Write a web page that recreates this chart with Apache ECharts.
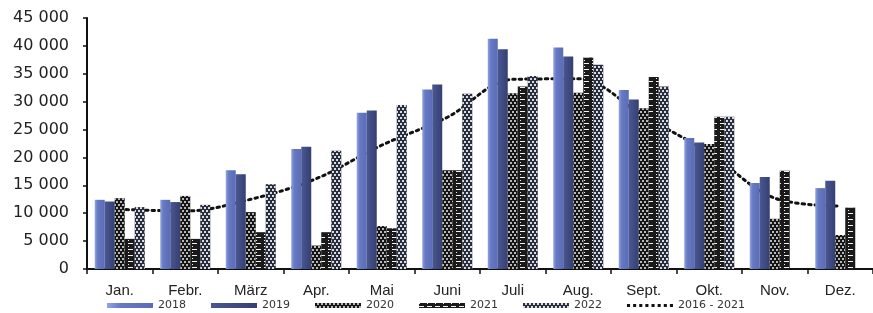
<!DOCTYPE html>
<html>
<head>
<meta charset="utf-8">
<script src="https://cdn.jsdelivr.net/npm/echarts@6/dist/echarts.min.js"></script>
<style>
html,body{margin:0;padding:0;background:#fff;}
#c{width:873px;height:313px;}
</style>
</head>
<body>
<div id="c"></div>
<script>
const months = ['Jan.', 'Febr.', 'März', 'Apr.', 'Mai', 'Juni', 'Juli', 'Aug.', 'Sept.', 'Okt.', 'Nov.', 'Dez.'];
const s2018 = [12400, 12400, 17700, 21500, 28000, 32200, 41300, 39700, 32100, 23500, 15400, 14500];
const s2019 = [12100, 12000, 17000, 21900, 28400, 33100, 39400, 38100, 30400, 22700, 16500, 15800];
const s2020 = [12700, 13100, 10200, 4200, 7700, 17700, 31500, 31600, 28800, 22400, 9000, 6100];
const s2021 = [5400, 5400, 6600, 6600, 7300, 17700, 32700, 37900, 34400, 27300, 17600, 11000];
const s2022 = [11100, 11500, 15200, 21200, 29400, 31400, 34600, 36600, 32700, 27300, null, null];
const avg1621 = [10700, 10400, 12500, 16200, 22200, 27200, 34000, 34100, 27400, 20800, 12700, 11300];
const yTicks = [0, 5000, 10000, 15000, 20000, 25000, 30000, 35000, 40000, 45000];

const chart = echarts.init(document.getElementById('c'), null, {renderer: 'canvas'});
const fmt = v => String(v).replace(/\B(?=(\d{3})+(?!\d))/g, ' ');
let dots = 'path://';
for (let i = 0; i < 8; i++) dots += 'M' + (i * 6) + ',0h3v3h-3z';

chart.setOption({
  animation: false,
  backgroundColor: '#fff',
  grid: {left: 87, top: 18, width: 797, bottom: 44, containLabel: false},
  legend: {
    left: 107, top: 300, padding: 0,
    itemWidth: 46, itemHeight: 5, itemGap: 25,
    textStyle: {fontFamily: 'DejaVu Sans', fontSize: 11, color: '#333'},
    data: [
      {name: '2018', icon: 'rect'},
      {name: '2019', icon: 'rect'},
      {name: '2020', icon: 'rect'},
      {name: '2021', icon: 'rect'},
      {name: '2022', icon: 'rect'},
      {name: '2016 - 2021', icon: dots}
    ]
  },
  xAxis: {
    type: 'category',
    data: months,
    axisLine: {lineStyle: {color: '#111', width: 2}},
    axisTick: {show: true, length: 5, lineStyle: {color: '#111', width: 1.5}},
    axisLabel: {fontFamily: 'Liberation Sans', fontSize: 15, color: '#222', margin: 14}
  },
  yAxis: {
    type: 'value',
    min: yTicks[0], max: yTicks[yTicks.length - 1], interval: yTicks[1] - yTicks[0],
    axisLine: {show: true, lineStyle: {color: '#111', width: 2}},
    axisTick: {show: true, length: 4, lineStyle: {color: '#111', width: 1.5}},
    splitLine: {show: false},
    axisLabel: {fontFamily: 'DejaVu Sans', fontSize: 16, color: '#222', margin: 18, formatter: fmt}
  },
  series: [
    {
      name: '2016 - 2021', type: 'line', data: avg1621, smooth: 0.35, symbol: 'none', z: 1,
      lineStyle: {color: '#111', width: 3, type: [2.5, 4], cap: 'round'},
      itemStyle: {color: '#111'}
    },
    {
      name: '2018', type: 'bar', data: s2018, barWidth: 10, barGap: '0%', z: 3,
      itemStyle: {color: new echarts.graphic.LinearGradient(0, 0, 1, 0, [
        {offset: 0, color: '#93a4e0'}, {offset: 0.3, color: '#6679c2'}, {offset: 1, color: '#5a6cb6'}])}
    },
    {
      name: '2019', type: 'bar', data: s2019, barWidth: 10, barGap: '0%', z: 3,
      itemStyle: {color: new echarts.graphic.LinearGradient(0, 0, 1, 0, [
        {offset: 0, color: '#4a5792'}, {offset: 1, color: '#353f72'}])}
    },
    {
      name: '2020', type: 'bar', data: s2020, barWidth: 10, barGap: '0%', z: 3,
      itemStyle: {color: '#151515', decal: {symbol: 'circle', symbolSize: 1, color: '#eeeeee', dashArrayX: [[2, 2], [0, 2, 2, 0]], dashArrayY: [2, 1]}}
    },
    {
      name: '2021', type: 'bar', data: s2021, barWidth: 10, barGap: '0%', z: 3,
      itemStyle: {color: '#1a1a1a', decal: {symbol: 'rect', symbolSize: 1, color: '#f2f2f2', dashArrayX: [[5, 3], [1, 7]], dashArrayY: [1, 2]}}
    },
    {
      name: '2022', type: 'bar', data: s2022, barWidth: 10, barGap: '0%', z: 3,
      itemStyle: {color: '#2a2e3a', decal: {symbol: 'rect', symbolSize: 1, color: '#d8dce8', dashArrayX: [[1.5, 1.5], [0, 1.5, 1.5, 0]], dashArrayY: [1.5, 0.01]}}
    }
  ]
});
</script>
</body>
</html>
